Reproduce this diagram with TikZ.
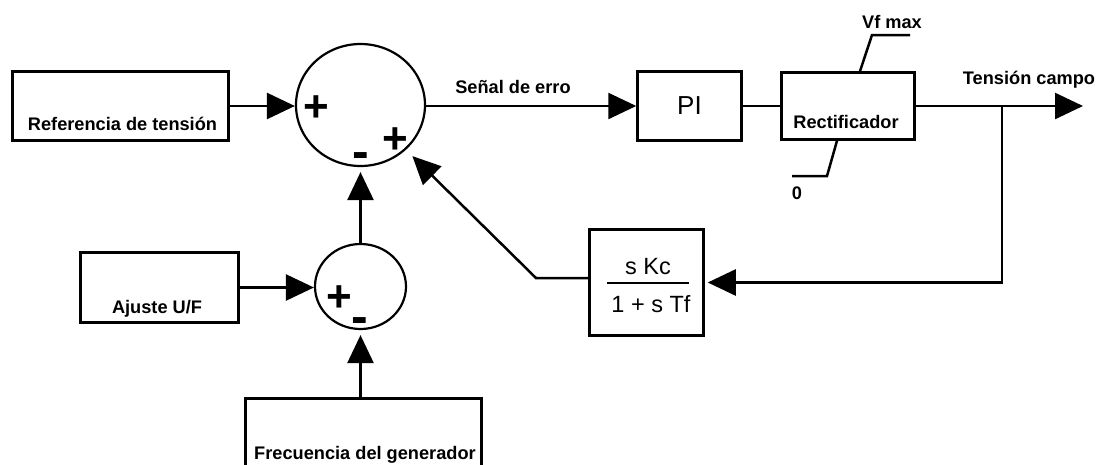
\documentclass[tikz,border=0pt]{standalone}
\usepackage{fontspec}
\setmainfont{Liberation Sans}
\usetikzlibrary{arrows.meta,shapes.geometric,calc}

\begin{document}
\begin{tikzpicture}[x=1pt,y=-1pt,
  blk/.style={draw, line width=2.5pt, inner sep=0pt, rectangle},
  sumj/.style={draw, ellipse, line width=2.2pt, inner sep=0pt},
  lbl/.style={font=\bfseries\fontsize{18.2}{20}\selectfont, inner sep=0pt, anchor=base},
  sgnp/.style={font=\bfseries\fontsize{44}{44}\selectfont, inner sep=0pt, anchor=base},
  sgnm/.style={font=\bfseries\fontsize{50}{50}\selectfont, inner sep=0pt, anchor=base},
  frac/.style={font=\fontsize{23.5}{24}\selectfont, inner sep=0pt, anchor=base},
  wire/.style={line width=2.5pt},
  sig/.style={line width=2.5pt, -{Triangle[length=28pt,width=26pt]}}]

\useasboundingbox (0,0) rectangle (1104,464);
\clip (0,0) rectangle (1104,464);

% input blocks
\node[blk, minimum width=216pt, minimum height=69pt] (ref) at (120.5,106) {};
\node[lbl] (ref-t) at (122.5,130) {Referencia de tensión};
\node[blk, minimum width=158pt, minimum height=70pt] (adj) at (159.5,287.5) {};
\node[lbl] (adj-t) at (157,313) {Ajuste U/F};
\node[blk, minimum width=236pt, minimum height=120pt, anchor=north] (freq) at (363.5,397) {};
\node[lbl] (freq-t) at (365,459) {Frecuencia del generador};

% summing junctions
\node[sumj, minimum width=129pt, minimum height=122pt] (sum1) at (360.5,105) {};
\node[sgnp] (s1-p1) at (316,121.5) {+};
\node[sgnp] (s1-p2) at (395.5,153) {+};
\node[sgnm] (s1-m) at (361,168) {-};
\node[sumj, minimum width=91pt, minimum height=85pt] (sum2) at (360.5,286.5) {};
\node[sgnp] (s2-p) at (339,311) {+};
\node[sgnm] (s2-m) at (360,333) {-};

% forward path
\node[blk, minimum width=104pt, minimum height=69pt, font=\fontsize{26}{26}\selectfont] (pi) at (689.5,106) {PI};
\node[blk, minimum width=133pt, minimum height=67pt] (rect) at (848,106) {};
\node[lbl] (rect-t) at (846,128) {Rectificador};
\node[lbl] (err-t) at (513,93) {Señal de erro};
\node[lbl] (vmax-t) at (892,28) {Vf max};
\node[lbl] (zero-t) at (797,199) {0};
\node[lbl] (out-t) at (1029,84) {Tensión campo};
\coordinate (out) at (1083,106);
\coordinate (br) at (1002,106);
\coordinate (vmax1) at (872,35);
\coordinate (vmax2) at (910,35);
\coordinate (zero1) at (827,176);
\coordinate (zero2) at (792,176);

% feedback block
\node[blk, minimum width=114pt, minimum height=106pt] (fb) at (646.5,282.5) {};
\node[frac] (fb-n) at (648,274) {s Kc};
\node[frac] (fb-d) at (651,312) {1 + s Tf};
\coordinate (rule1) at (607,283);
\coordinate (rule2) at (689,283);
\coordinate (knee) at (536,278);

% connectors
\draw[sig] (ref.east) -- (ref.east -| sum1.west);
\draw[sig] (adj.east) -- (adj.east -| sum2.west);
\draw[sig, shorten >=5pt] (freq.north -| sum2.south) -- (sum2.south);
\draw[sig, shorten >=5pt] (sum2.north) -- (sum1.south);
\draw[sig] (sum1.east |- pi.west) -- (pi.west);
\draw[wire] (pi.east) -- (rect.west);
\draw[sig] (rect.east) -- (out);
\draw[wire] ($(rect.north)+(12,0)$) -- (vmax1) -- (vmax2);
\draw[wire] ($(rect.south)+(-11,0)$) -- (zero1) -- (zero2);
\draw[sig, shorten >=3pt] (br) |- (fb.east);
\draw[line width=2pt] (rule1) -- (rule2);
\draw[sig, shorten >=9pt] ($(fb.west)+(0,-4.5)$) -- (knee) -- (sum1);
\end{tikzpicture}
\end{document}
